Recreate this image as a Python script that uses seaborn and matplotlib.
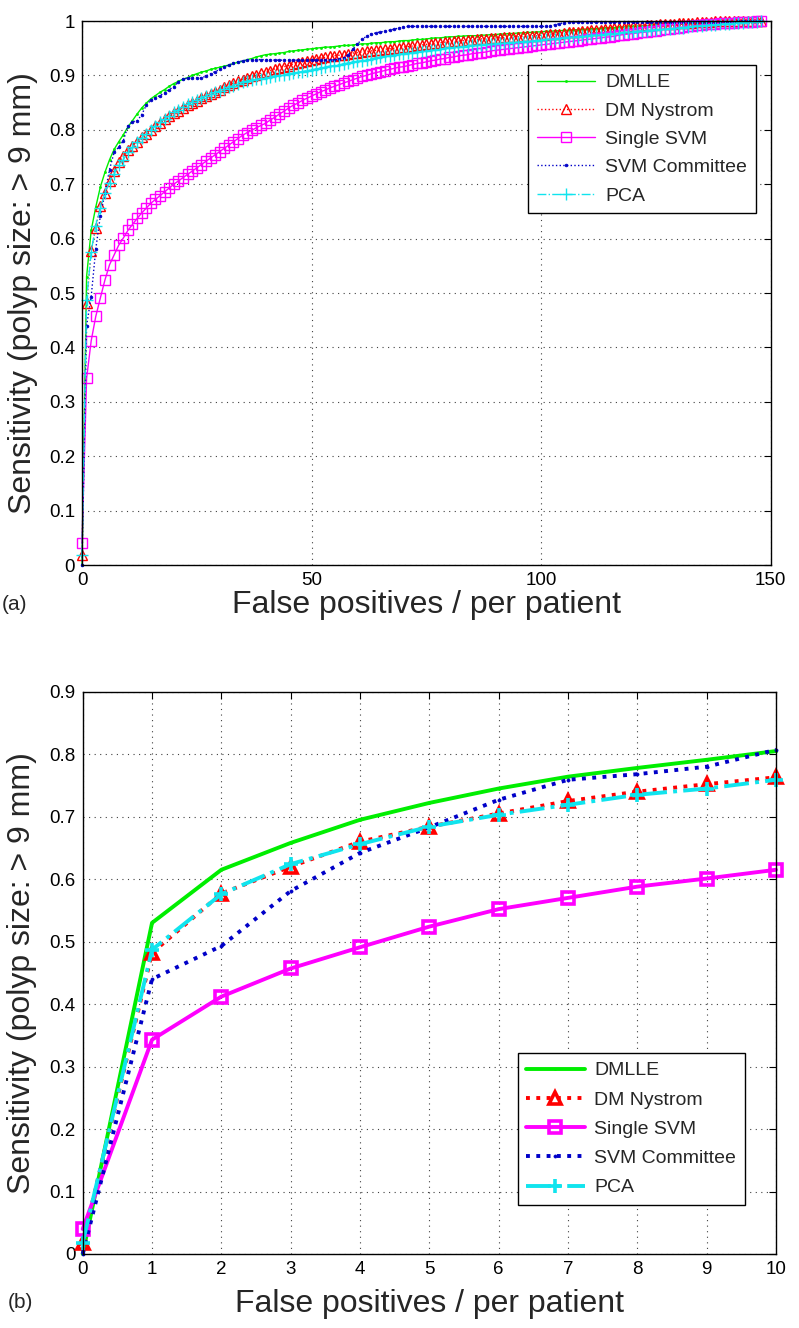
import numpy as np
import pandas as pd
import matplotlib
matplotlib.use("Agg")
import matplotlib.pyplot as plt
import seaborn as sns
from matplotlib.ticker import FuncFormatter

# ---------------- data (sensitivity at FP/patient = 0,1,2,...,148) ----------------
dmlle = [0.000, 0.530, 0.615, 0.658, 0.695, 0.722, 0.745, 0.764, 0.778, 0.791,
         0.805, 0.817, 0.829, 0.840, 0.849, 0.857, 0.863, 0.869, 0.874, 0.880,
         0.885, 0.889, 0.893, 0.896, 0.900, 0.903, 0.906, 0.908, 0.911, 0.913,
         0.915, 0.917, 0.919, 0.922, 0.924, 0.926, 0.929, 0.931, 0.934, 0.936,
         0.938,
         0.939, 0.940, 0.941, 0.942, 0.944, 0.945, 0.946, 0.947, 0.948, 0.949,
         0.950, 0.951, 0.952, 0.952, 0.953, 0.954, 0.955, 0.955, 0.956, 0.957,
         0.958, 0.958, 0.959, 0.960, 0.960, 0.961, 0.962, 0.962, 0.963, 0.964,
         0.964, 0.965, 0.966, 0.966, 0.967, 0.968, 0.969, 0.969, 0.970, 0.971,
         0.971, 0.972, 0.972, 0.973, 0.973, 0.973, 0.974, 0.974, 0.975, 0.975,
         0.976, 0.976, 0.977, 0.977, 0.978, 0.978, 0.979, 0.979, 0.980, 0.980,
         0.981, 0.981, 0.982, 0.982, 0.983, 0.983, 0.984, 0.984, 0.985, 0.985,
         0.986, 0.986, 0.987, 0.987, 0.988, 0.988, 0.989, 0.989, 0.990, 0.990,
         0.990, 0.991, 0.991, 0.992, 0.992, 0.992, 0.993, 0.993, 0.994, 0.994,
         0.994, 0.995, 0.995, 0.995, 0.996, 0.996, 0.996, 0.997, 0.997, 0.998,
         0.998, 0.998, 0.999, 0.999, 0.999, 1.000, 1.000, 1.000]

dm_nystrom = [0.018, 0.482, 0.577, 0.620, 0.660, 0.684, 0.705, 0.725, 0.740, 0.752,
              0.763, 0.771, 0.778, 0.786, 0.793, 0.800, 0.807, 0.813, 0.819, 0.825,
              0.830, 0.835, 0.840, 0.845, 0.849, 0.853, 0.858, 0.862, 0.866, 0.870,
              0.874, 0.878, 0.882, 0.886, 0.889, 0.892, 0.895, 0.898, 0.901, 0.904,
              0.907,
              0.909, 0.912, 0.914, 0.916, 0.918, 0.921, 0.923, 0.925, 0.927, 0.929,
              0.931, 0.932, 0.933, 0.935, 0.936, 0.937, 0.938, 0.940, 0.941, 0.942,
              0.943, 0.944, 0.945, 0.946, 0.947, 0.948, 0.949, 0.950, 0.951, 0.952,
              0.953, 0.954, 0.955, 0.956, 0.957, 0.958, 0.959, 0.960, 0.961, 0.962,
              0.963, 0.963, 0.964, 0.965, 0.965, 0.966, 0.967, 0.967, 0.968, 0.969,
              0.969, 0.970, 0.970, 0.971, 0.971, 0.972, 0.972, 0.973, 0.973, 0.974,
              0.975, 0.976, 0.976, 0.977, 0.978, 0.979, 0.979, 0.980, 0.981, 0.982,
              0.983, 0.984, 0.984, 0.985, 0.986, 0.987, 0.987, 0.988, 0.989, 0.990,
              0.990, 0.991, 0.992, 0.992, 0.993, 0.994, 0.994, 0.995, 0.995, 0.996,
              0.996, 0.997, 0.997, 0.998, 0.998, 0.999, 0.999, 1.000, 1.000, 1.000,
              1.000, 1.000, 1.000, 1.000, 1.000, 1.000, 1.000, 1.000]

single_svm = [0.040, 0.343, 0.412, 0.457, 0.491, 0.524, 0.552, 0.570, 0.588, 0.601,
              0.615, 0.626, 0.637, 0.647, 0.656, 0.665, 0.672, 0.679, 0.686, 0.693,
              0.700, 0.706, 0.712, 0.718, 0.724, 0.730, 0.736, 0.742, 0.748, 0.754,
              0.760, 0.766, 0.772, 0.778, 0.784, 0.790, 0.795, 0.799, 0.804, 0.808,
              0.812,
              0.818, 0.823, 0.829, 0.834, 0.840, 0.845, 0.849, 0.854, 0.858, 0.862,
              0.866, 0.870, 0.873, 0.877, 0.880, 0.883, 0.886, 0.889, 0.892, 0.895,
              0.898, 0.900, 0.903, 0.905, 0.907, 0.909, 0.911, 0.913, 0.915, 0.916,
              0.918, 0.920, 0.922, 0.923, 0.925, 0.927, 0.928, 0.930, 0.931, 0.933,
              0.934, 0.936, 0.937, 0.938, 0.940, 0.941, 0.942, 0.943, 0.945, 0.946,
              0.947, 0.948, 0.949, 0.950, 0.951, 0.952, 0.953, 0.954, 0.955, 0.956,
              0.957, 0.958, 0.959, 0.960, 0.961, 0.962, 0.963, 0.964, 0.965, 0.966,
              0.967, 0.968, 0.969, 0.970, 0.971, 0.972, 0.974, 0.975, 0.976, 0.977,
              0.978, 0.979, 0.980, 0.981, 0.982, 0.984, 0.985, 0.986, 0.987, 0.988,
              0.989, 0.990, 0.991, 0.992, 0.993, 0.994, 0.995, 0.995, 0.996, 0.996,
              0.997, 0.997, 0.998, 0.998, 0.999, 0.999, 1.000, 1.000]

svm_committee = [0.000, 0.440, 0.493, 0.581, 0.642, 0.683, 0.727, 0.759, 0.768, 0.780,
                 0.807, 0.815, 0.816, 0.828, 0.845, 0.855, 0.859, 0.863, 0.868, 0.874,
                 0.879, 0.888, 0.893, 0.895, 0.896, 0.896, 0.895, 0.899, 0.903, 0.907,
                 0.911, 0.916, 0.919, 0.922, 0.925, 0.927, 0.928, 0.929, 0.929, 0.929,
                 0.929,
                 0.929, 0.928, 0.928, 0.928, 0.928, 0.928, 0.928, 0.928, 0.928, 0.928,
                 0.928, 0.928, 0.928, 0.928, 0.929, 0.930, 0.932, 0.938, 0.948, 0.958,
                 0.966, 0.972, 0.976, 0.978, 0.980, 0.981, 0.983, 0.985, 0.987, 0.989,
                 0.990, 0.990, 0.990, 0.990, 0.990, 0.990, 0.990, 0.990, 0.990, 0.990,
                 0.990, 0.990, 0.990, 0.990, 0.990, 0.990, 0.990, 0.990, 0.990, 0.990,
                 0.990, 0.990, 0.990, 0.990, 0.990, 0.990, 0.990, 0.990, 0.990, 0.990,
                 0.990, 0.991, 0.993, 0.995, 0.997, 0.998, 0.998, 0.998, 0.998, 0.998,
                 0.998, 0.998, 0.998, 0.998, 0.998, 0.998, 0.998, 0.998, 0.998, 0.998,
                 0.998, 0.998, 0.998, 0.998, 0.998, 0.998, 0.998, 0.998, 0.998, 0.998,
                 0.999, 0.999, 0.999, 0.999, 0.999, 0.999, 0.999, 0.999, 0.999, 0.999,
                 0.999, 0.999, 1.000, 1.000, 1.000, 1.000, 1.000, 1.000]

pca = [0.018, 0.487, 0.576, 0.624, 0.656, 0.684, 0.703, 0.719, 0.735, 0.745,
       0.759, 0.768, 0.777, 0.785, 0.793, 0.800, 0.807, 0.814, 0.820, 0.826,
       0.832, 0.837, 0.842, 0.847, 0.851, 0.855, 0.859, 0.862, 0.866, 0.869,
       0.872, 0.875, 0.878, 0.881, 0.884, 0.887, 0.889, 0.891, 0.893, 0.894,
       0.895,
       0.897, 0.898, 0.900, 0.901, 0.903, 0.904, 0.906, 0.907, 0.909, 0.910,
       0.912, 0.913, 0.915, 0.917, 0.918, 0.920, 0.921, 0.923, 0.924, 0.926,
       0.927, 0.929, 0.930, 0.932, 0.933, 0.935, 0.936, 0.937, 0.939, 0.940,
       0.941, 0.942, 0.943, 0.944, 0.945, 0.946, 0.947, 0.948, 0.950, 0.951,
       0.952, 0.952, 0.953, 0.954, 0.955, 0.955, 0.956, 0.957, 0.957, 0.958,
       0.959, 0.959, 0.960, 0.961, 0.961, 0.962, 0.963, 0.963, 0.964, 0.965,
       0.966, 0.966, 0.967, 0.968, 0.969, 0.970, 0.970, 0.971, 0.972, 0.973,
       0.974, 0.974, 0.975, 0.976, 0.977, 0.977, 0.978, 0.979, 0.979, 0.980,
       0.981, 0.982, 0.982, 0.983, 0.984, 0.985, 0.985, 0.986, 0.987, 0.988,
       0.988, 0.989, 0.990, 0.991, 0.991, 0.992, 0.993, 0.993, 0.994, 0.995,
       0.995, 0.996, 0.997, 0.997, 0.998, 0.999, 0.999, 1.000]

series_names = ["DMLLE", "DM Nystrom", "Single SVM", "SVM Committee", "PCA"]
series_values = [dmlle, dm_nystrom, single_svm, svm_committee, pca]
zoom_max_fp = 10

xlabel_text = "False positives / per patient"
ylabel_text = "Sensitivity (polyp size: > 9 mm)"

# ---------------- styling ----------------
sns.set_theme(style="white")
plt.rcParams["font.family"] = ["Liberation Sans", "DejaVu Sans"]

colors = ["#00ee00", "#ff0000", "#ff00ff", "#0000c8", "#10e4ee"]
lstyles = ["-", ":", "-", ":", "-."]
markers = [".", "^", "s", ".", "+"]
open_marker = [False, True, True, False, False]

W, H = 799, 1328
fig = plt.figure(figsize=(W / 100, H / 100), dpi=100)
ax1 = fig.add_axes([82 / W, 1 - 565 / H, (770.5 - 82) / W, 544 / H])
ax2 = fig.add_axes([82.7 / W, 1 - 1254 / H, (776 - 82.7) / W, (1254 - 691.7) / H])


def draw(ax, nmax, lw, ms_list, mew):
    for i, (name, vals) in enumerate(zip(series_names, series_values)):
        v = vals[: nmax + 1] if nmax is not None else vals
        df = pd.DataFrame({"fp": np.arange(len(v)), "sens": v})
        kw = dict(color=colors[i], linestyle=lstyles[i], marker=markers[i],
                  markersize=ms_list[i], markeredgecolor=colors[i],
                  markeredgewidth=mew if markers[i] != "." else 0.5,
                  linewidth=lw, clip_on=False)
        kw["markerfacecolor"] = "none" if open_marker[i] else colors[i]
        sns.lineplot(data=df, x="fp", y="sens", ax=ax, label=name,
                     estimator=None, sort=False, legend=False, **kw)


draw(ax1, None, 1.0, [3.0, 7.5, 7.5, 4.0, 8.0], 1.0)
draw(ax2, zoom_max_fp, 2.8, [3.0, 9.0, 8.0, 4.5, 10.0], 2.6)

fmt = FuncFormatter(lambda v, p: f"{v:g}")
for ax, xlim, xt, ylim, yt in [
    (ax1, (0, 150), [0, 50, 100, 150], (0, 1), np.round(np.arange(0, 1.01, 0.1), 1)),
    (ax2, (0, 10), list(range(0, 11)), (0, 0.9), np.round(np.arange(0, 0.91, 0.1), 1)),
]:
    ax.set_xlim(*xlim)
    ax.set_ylim(*ylim)
    ax.set_xticks(xt)
    ax.set_yticks(yt)
    ax.yaxis.set_major_formatter(fmt)
    ax.xaxis.set_major_formatter(fmt)
    ax.grid(True, color="0.25", linestyle=(0, (1, 4)), linewidth=0.8)
    ax.tick_params(direction="in", length=5, width=0.8, top=True, right=True,
                   labelsize=13.5, colors="black", pad=5)
    for s in ax.spines.values():
        s.set_color("black")
        s.set_linewidth(1.0)
    ax.set_xlabel(xlabel_text, fontsize=23)
    ax.set_ylabel(ylabel_text, fontsize=23)
    ax.set_facecolor("white")

ax1.xaxis.set_label_coords(0.5, -0.046)
ax2.xaxis.set_label_coords(0.5, -0.062)
ax1.yaxis.set_label_coords(-0.064, 0.5)
ax2.yaxis.set_label_coords(-0.066, 0.5)

leg_kw = dict(fontsize=14, frameon=True, fancybox=False, shadow=False,
              edgecolor="black", framealpha=1, handlelength=3.0,
              borderpad=0.45, handletextpad=0.5, borderaxespad=0)
l1 = ax1.legend(loc="upper right", bbox_to_anchor=((755.7 - 82) / 688.5, (565 - 65) / 544),
                labelspacing=0.55, **leg_kw)
l2 = ax2.legend(loc="upper right", bbox_to_anchor=((745 - 82.7) / 693.3, (1254 - 1053) / 562.3),
                labelspacing=0.6, **leg_kw)
for l in (l1, l2):
    l.get_frame().set_linewidth(1.0)

fig.text(2 / W, 1 - 605 / H, "(a)", fontsize=15, va="center", ha="left")
fig.text(8 / W, 1 - 1303 / H, "(b)", fontsize=15, va="center", ha="left")

fig.savefig("out.png", dpi=100, facecolor="white")
